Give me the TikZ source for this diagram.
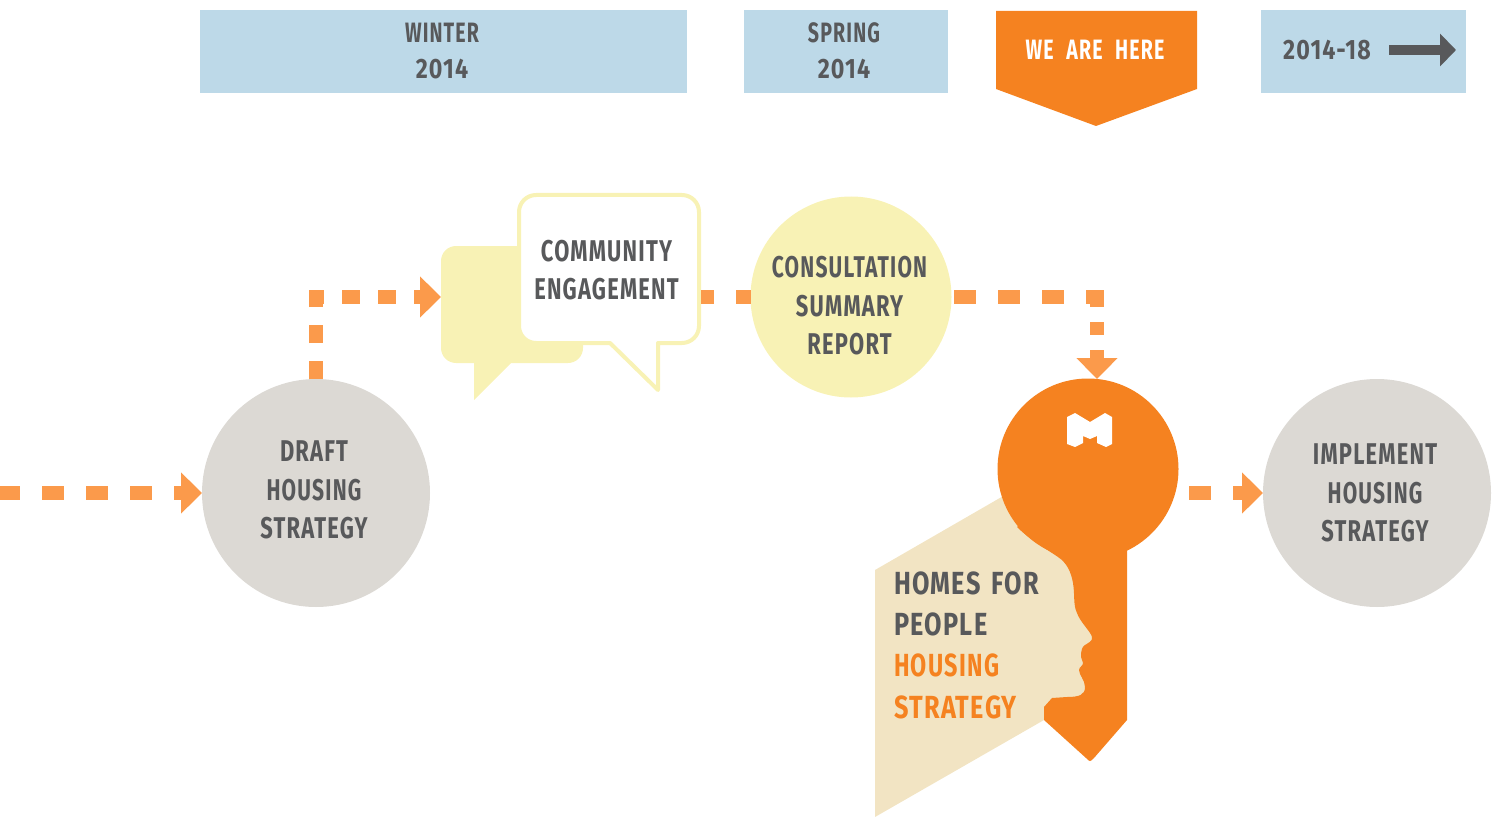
\documentclass[tikz,border=0pt]{standalone}
\usepackage{fontspec}
\usetikzlibrary{arrows.meta}
\newfontfamily\flowfont[FakeStretch=0.73,LetterSpace=4]{Fira Sans}
\newfontfamily\timefont[FakeStretch=0.7,LetterSpace=4,WordSpace=2.2]{Fira Sans}
\newfontfamily\datefont[FakeStretch=0.83,LetterSpace=4]{Fira Sans}
\newfontfamily\homesfont[FakeStretch=0.79,LetterSpace=4,WordSpace=1.5]{Fira Sans}
\definecolor{keyorange}{HTML}{F58220}
\definecolor{dashorange}{HTML}{FB9A4B}
\definecolor{paleyellow}{HTML}{F8F2B5}
\definecolor{circlegrey}{HTML}{DCD9D4}
\definecolor{timeblue}{HTML}{BDD9E8}
\definecolor{facetan}{HTML}{F2E4C3}
\definecolor{inkgrey}{HTML}{58595B}
\tikzset{
  every node/.style={inner sep=0pt,outer sep=0pt},
  flowtext/.style={font=\flowfont\bfseries\fontsize{30}{38.5}\selectfont,text=inkgrey,align=center},
  timetext/.style={font=\timefont\bfseries\fontsize{28}{36}\selectfont,text=inkgrey,align=center},
  timebox/.style={fill=timeblue},
  stage/.style={circle},
  flowline/.style={draw=dashorange,line width=14pt,dash pattern=on 22pt off 22pt},
  flowhead/.style={-{Triangle[length=21pt,width=40pt,fill=dashorange]}}
}
\begin{document}
\begin{tikzpicture}[x=1pt,y=-1pt]
\useasboundingbox (0,0) rectangle (1501,821);

% time line along the top
\fill[timebox] (200,10) rectangle (687,93);
\fill[timebox] (744,10) rectangle (948,93);
\fill[timebox] (1261,10) rectangle (1466,93);
\fill[keyorange] (996,11) -- (1197,11) -- (1197,89) -- (1096,126) -- (996,89) -- cycle;

\node[timetext] (winter) at (442,51) {WINTER\\{\datefont\bfseries 2014}};
\node[timetext] (spring) at (844,51) {SPRING\\{\datefont\bfseries 2014}};
\node[timetext,text=white] (here) at (1095,50) {WE ARE HERE};
\node[timetext,font=\datefont\bfseries\fontsize{28}{36}\selectfont] (range) at (1327,50) {2014-18};
\coordinate (rangetail) at (1389,50);
\coordinate (rangetip) at (1456,50);
\draw[draw=inkgrey,line width=10pt,-{Triangle[length=16pt,width=32pt,fill=inkgrey]}] (rangetail) -- (rangetip);

% stages
\node[stage,fill=circlegrey,minimum size=228pt] (draft) at (316,493) {};
\node[flowtext] (drafttext) at (314,490) {DRAFT\\{\timefont\bfseries HOUSING}\\STRATEGY};
\node[stage,fill=circlegrey,minimum size=228pt] (implement) at (1377,493) {};
\node[flowtext] (implementtext) at (1375,493) {IMPLEMENT\\{\timefont\bfseries HOUSING}\\STRATEGY};
\node[stage,fill=paleyellow,minimum size=201pt] (consult) at (851,297) {};
\node[flowtext] (consulttext) at (849.5,306) {{\timefont\bfseries CONSULTATION}\\SUMMARY\\REPORT};

% speech bubbles
\fill[paleyellow,rounded corners=15pt] (441,246) -- (583,246) -- (583,363) [sharp corners] -- (511,363) -- (474,400) -- (474,363) [rounded corners=15pt] -- (441,363) -- cycle;
\draw[draw=paleyellow,fill=white,line width=4pt,line join=round,rounded corners=17pt] (519,195) -- (699,195) -- (699,343) [sharp corners] -- (658,343) -- (658,390) -- (610,343) [rounded corners=17pt] -- (519,343) -- cycle;
\node[flowtext,minimum width=182pt,minimum height=150pt] (comm) at (606.5,270) {COMMUNITY\\ENGAGEMENT};

% key and head
\fill[facetan] (875,570) -- (1005,495) -- (1100,600) -- (1100,690) -- (1044,720) -- (875,817) -- cycle;
\node[circle,fill=keyorange,minimum size=181pt] (keyhead) at (1088,469) {};
\fill[keyorange] (1088,469) -- (1127,540) -- (1127,720) -- (1094,758) .. controls (1090,762) .. (1086,758) -- (1044,720) -- (1044,707) -- (1052,698) -- (1067,697)
  .. controls (1079,697) and (1085,695) .. (1085,687) .. controls (1085,680) and (1079,675) .. (1079,670)
  .. controls (1079,667) and (1083,666) .. (1083,663) .. controls (1083,660) and (1081,660) .. (1081,657)
  .. controls (1081,650) and (1082,647) .. (1085,645) .. controls (1088,643) and (1093,641) .. (1092,637)
  .. controls (1091,632) and (1080,622) .. (1077,613) .. controls (1073,605) and (1075,595) .. (1073,583)
  .. controls (1071,572) and (1067,563) .. (1058,557) .. controls (1048,550) and (1030,540) .. (1017,527) -- cycle;
\fill[white] (1067,417) -- (1075,413) -- (1090,422) -- (1105,413) -- (1112,417) -- (1112,444) -- (1106,447) -- (1097,443) -- (1097,436) -- (1090,439) -- (1083,436) -- (1083,443) -- (1075,447) -- (1067,444) -- cycle;
\node[flowtext,align=left,anchor=west,font=\homesfont\bfseries\fontsize{32}{41.3}\selectfont] (homes) at (894,645) {HOMES FOR\\PEOPLE\\\textcolor{keyorange}{\flowfont\bfseries HOUSING}\\\textcolor{keyorange}{STRATEGY}};

% connectors
\coordinate (flowstart) at (0,493);
\coordinate (bubblein) at (441,297);
\coordinate (bubbleout) at (701,297);
\coordinate (consultin) at (751,297);
\coordinate (elbow) at (1097,297);
\coordinate (keytop) at (1097,379);
\coordinate (keyout) at (1179,493);

\draw[flowline,flowhead,dash phase=2pt] (flowstart) -- (draft.west);
\draw[flowline,flowhead,dash pattern=on 18pt off 18pt,line join=miter] (draft.north) |- (bubblein);
\draw[flowline,dash phase=9pt] (bubbleout) -- (consultin);
\draw[flowline,dash phase=41.5pt,shorten >=-7pt] (consult.east) -- (elbow);
\draw[flowline,flowhead,dash pattern=on 13pt off 15pt,dash phase=3pt] (elbow) -- (keytop);
\draw[flowline,flowhead,dash phase=34pt] (keyout) -- (implement.west);
\end{tikzpicture}
\end{document}
